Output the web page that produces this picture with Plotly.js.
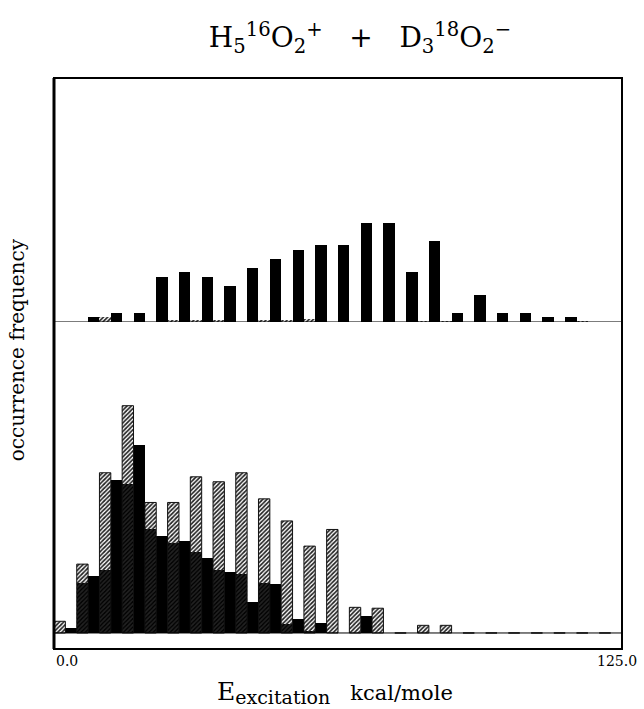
<!DOCTYPE html>
<html>
<head>
<meta charset="utf-8">
<script src="https://cdn.plot.ly/plotly-3.0.1.min.js"></script>
<style>html,body{margin:0;padding:0;background:#fff;}#chart{width:644px;height:709px;}</style>
</head>
<body>
<div id="chart"></div>
<script>
// Bin starts (kcal/mole), bin width 5; each bin split into two half-slots
const binStart = [0,5,10,15,20,25,30,35,40,45,50,55,60,65,70,75,80,85,90,95,100,105,110,115,120];

// Top panel (occurrence frequency, arbitrary units)
const topHatched = [0,0,1,0,0,0.5,0.5,0.5,0,0.5,0.5,0.7,0,0,0,0,0.2,0.2,0,0,0,0,0,0.2,0];
const topBlack   = [0,1,2,2,10,11,10,8,12,14,16,17,17,22,22,11,18,2,6,2,2,1,1,0,0];

// Bottom panel
const botHatched = [2.6,15.3,35.6,50.5,29,29,34.7,33.6,35.6,29.8,24.9,19.3,23,5.7,5.5,0,1.7,1.7,0,0,0,0,0,0,0];
// black histogram, two values per bin: [under hatched half, second half]
const botBlackFirst  = [0,11,14,33,23,20,18,14,13,11,2,0.5,0,0,0,0,0,0,0,0,0,0,0,0,0];
const botBlackSecond = [1,12.7,34,41.8,21.6,20.4,16.6,13.6,6.8,10.8,3,2.2,0,3.8,0,0,0,0,0,0,0,0,0,0,0];

const xTickVals = [0,125];
const xTickText = ['0.0','125.0'];

const half = 2.5;
const firstX = binStart.map(s => s + half/2);
const secondX = binStart.map(s => s + 1.5*half);

const hatchPattern = {shape:'/', size:3, solidity:0.55, fgcolor:'#222', bgcolor:'rgba(255,255,255,0)', fillmode:'replace'};

const traces = [
  {type:'bar', x:firstX, y:topHatched, width:half, xaxis:'x', yaxis:'y',
   marker:{color:'#888', pattern:hatchPattern, line:{width:0}}, hoverinfo:'skip'},
  {type:'bar', x:secondX, y:topBlack, width:half, xaxis:'x', yaxis:'y',
   marker:{color:'#000', line:{width:0}}, hoverinfo:'skip'},
  {type:'bar', x:firstX, y:botBlackFirst, width:half, xaxis:'x', yaxis:'y2',
   marker:{color:'#000', line:{width:0}}, hoverinfo:'skip'},
  {type:'bar', x:secondX, y:botBlackSecond, width:half, xaxis:'x', yaxis:'y2',
   marker:{color:'#000', line:{width:0}}, hoverinfo:'skip'},
  {type:'bar', x:firstX, y:botHatched, width:half, xaxis:'x', yaxis:'y2',
   marker:{color:'#888', pattern:hatchPattern, line:{color:'#111', width:1}}, hoverinfo:'skip'}
];

const split = 0.5727;
const serif = 'DejaVu Serif, Liberation Serif, serif';

const layout = {
  width:644, height:709,
  margin:{l:54, r:22, t:78, b:60},
  paper_bgcolor:'#fff', plot_bgcolor:'#fff',
  showlegend:false, barmode:'overlay', bargap:0,
  title:{text:'H<sub>5</sub><sup>16</sup>O<sub>2</sub><sup>+</sup>   +   D<sub>3</sub><sup>18</sup>O<sub>2</sub><sup>−</sup>',
         font:{family:serif, size:28, color:'#000'}, x:0.559, xanchor:'center', xref:'container', y:0.947, yanchor:'middle'},
  xaxis:{range:[0,125], anchor:'y2', showgrid:false, zeroline:false, showticklabels:false, ticks:'', showline:false,
         tickvals:xTickVals, ticktext:xTickText},
  yaxis:{domain:[split,1], range:[0,54.2], showgrid:false, zeroline:false, showticklabels:false, ticks:'', showline:false},
  yaxis2:{domain:[0,split], range:[-3.56,69.1], anchor:'x', showgrid:false, zeroline:false, showticklabels:false, ticks:'', showline:false},
  shapes:[
    {type:'line', xref:'paper', yref:'y', x0:0, x1:1, y0:0, y1:0, line:{color:'#000', width:1}},
    {type:'line', xref:'paper', yref:'y2', x0:0, x1:1, y0:0, y1:0, line:{color:'#000', width:1}},
    {type:'rect', xref:'paper', yref:'paper', x0:0, x1:1, y0:0, y1:1, line:{color:'#000', width:2}},
    {type:'line', xref:'paper', yref:'paper', x0:0, x1:0, y0:0, y1:1, line:{color:'#000', width:3}}
  ],
  annotations:[
    {text:xTickText[0], xref:'x', yref:'paper', x:xTickVals[0], y:-0.021, xanchor:'left', yanchor:'middle', showarrow:false,
     font:{family:serif, size:14, color:'#000'}},
    {text:xTickText[1], xref:'paper', yref:'paper', x:1.03, y:-0.021, xanchor:'right', yanchor:'middle', showarrow:false,
     font:{family:serif, size:14, color:'#000'}},
    {text:'<span style="font-size:25px">E</span><sub><span style="font-size:19px">excitation</span></sub>   kcal/mole', xref:'paper', yref:'paper', x:0.495, y:-0.046, xanchor:'center', yanchor:'top', showarrow:false,
     font:{family:serif, size:21, color:'#000'}},
    {text:'occurrence frequency', xref:'paper', yref:'paper', x:-0.066, y:0.524, xanchor:'center', yanchor:'middle', textangle:-90, showarrow:false,
     font:{family:serif, size:20, color:'#000'}}
  ]
};

Plotly.newPlot('chart', traces, layout, {staticPlot:true, displayModeBar:false});
</script>
</body>
</html>
